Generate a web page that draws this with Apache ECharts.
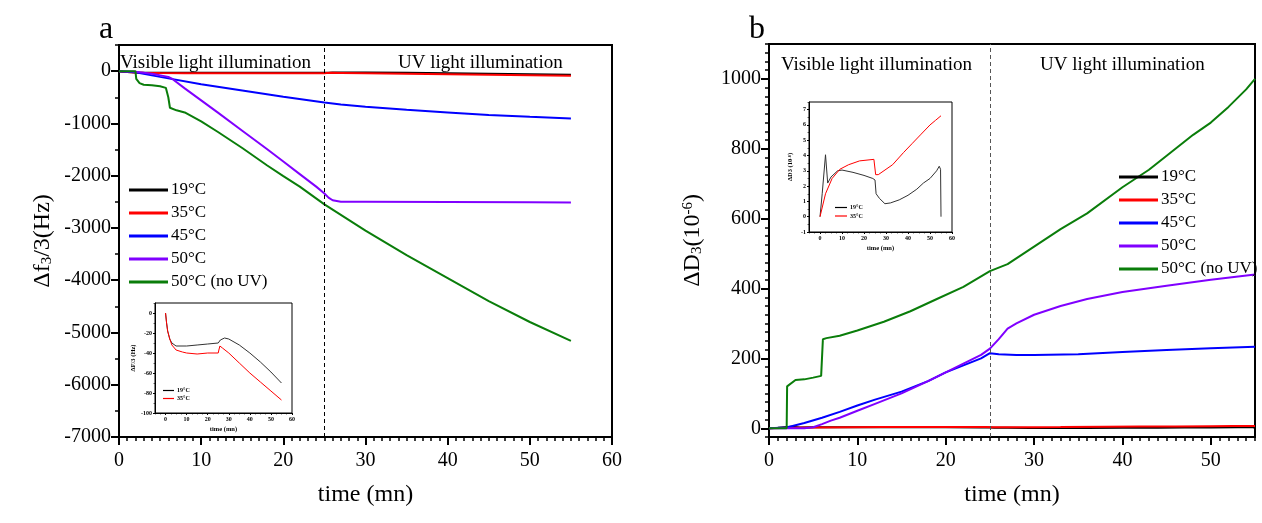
<!DOCTYPE html>
<html>
<head>
<meta charset="utf-8">
<script src="https://cdn.jsdelivr.net/npm/echarts@6/dist/echarts.min.js"></script>
<style>
html, body { margin: 0; padding: 0; background: #fff; }
#main { width: 1262px; height: 523px; }
</style>
</head>
<body>
<div id="main"></div>
<script>
// panel a : delta f3/3 (Hz) vs time (mn)
var tA19 = [0, 0.5, 1, 2, 3, 5, 10, 15, 20, 25, 25.5, 26, 28, 30, 35, 40, 45, 50, 55];
var fA19 = [0, -10, -18, -26, -30, -33, -33, -32, -31, -30, -29, -27, -25, -26, -32, -40, -49, -59, -70];
var tA35 = [0, 0.5, 1, 2, 3, 5, 8, 10, 15, 20, 25, 25.3, 25.8, 27, 30, 35, 40, 45, 50, 55];
var fA35 = [0, -10, -18, -26, -32, -37, -39, -40, -41, -40, -40, -37, -33, -35, -40, -50, -60, -69, -78, -87];
var tA45 = [0, 2, 5, 10, 15, 20, 25, 27, 30, 35, 40, 45, 50, 55];
var fA45 = [0, -20, -110, -250, -370, -490, -600, -640, -680, -740, -790, -840, -875, -905];
var tA50 = [0, 2, 4, 6, 6.5, 8, 10, 12, 15, 18, 20, 22, 24, 25, 25.5, 26, 27, 30, 40, 50, 55];
var fA50 = [0, -10, -50, -110, -150, -330, -560, -790, -1140, -1490, -1730, -1970, -2210, -2340, -2420, -2470, -2500, -2500, -2505, -2510, -2515];
var tA50n = [0, 2, 2.1, 2.5, 3, 4, 5, 5.7, 6, 6.2, 7, 8, 10, 12, 15, 18, 20, 22, 25, 28, 30, 35, 40, 45, 50, 55];
var fA50n = [0, 0, -150, -230, -260, -270, -290, -320, -500, -700, -750, -790, -960, -1160, -1470, -1800, -2010, -2210, -2550, -2850, -3050, -3520, -3960, -4400, -4800, -5160];

// panel b : delta D3 (1e-6) vs time (mn)
var tB19 = [0, 1, 2.5, 3.5, 5, 8, 10, 15, 20, 24, 25, 25.5, 27, 29.5, 32, 36, 40, 44, 47, 50, 53, 54.2, 54.8, 55];
var dB19 = [0, 1.5, 4.05, 2.2, 2.6, 3.0, 3.05, 2.9, 2.7, 2.5, 2.4, 1.5, 1.2, 0.85, 0.9, 1.1, 1.4, 1.8, 2.2, 2.5, 3.0, 3.3, 3.1, 0];
var tB35 = [0, 2.5, 5.5, 9, 13, 18, 24.5, 25.3, 26.5, 30, 33, 38, 42, 46, 50, 52.5, 55];
var dB35 = [0, 1.5, 2.5, 3.1, 3.4, 3.65, 3.75, 2.75, 2.75, 3.1, 3.4, 4.2, 4.8, 5.4, 6.0, 6.3, 6.6];
var tB45 = [0, 2, 4, 6, 8, 10, 12, 15, 18, 20, 22, 24, 25, 26, 28, 30, 35, 40, 45, 50, 55];
var dB45 = [0, 2, 15, 30, 47, 65, 82, 105, 135, 160, 180, 200, 215, 212, 210, 210, 212, 218, 224, 229, 233];
var tB50 = [0, 4, 5, 6, 7, 8, 10, 12, 15, 18, 20, 22, 24, 25, 26, 27, 28, 30, 33, 36, 40, 45, 50, 55];
var dB50 = [0, 0, 3, 12, 22, 30, 50, 70, 100, 135, 160, 185, 210, 228, 255, 285, 300, 325, 350, 370, 390, 408, 425, 440];
var tB50n = [0, 2, 2.05, 3, 4, 5, 5.9, 6.1, 6.5, 8, 10, 13, 16, 19, 22, 25, 27, 30, 33, 36, 40, 43, 45, 48, 50, 52, 54, 55];
var dB50n = [0, 0, 120, 138, 140, 145, 150, 255, 258, 265, 280, 305, 335, 370, 405, 450, 470, 520, 570, 615, 690, 740, 780, 840, 875, 920, 970, 1000];

var names = ['19°C', '35°C', '45°C', '50°C', '50°C (no UV)'];
var colors = ['#000000', '#ff0000', '#0000ff', '#8000ff', '#0a7d0a'];

// tick values
var ticksXa = [0, 10, 20, 30, 40, 50, 60];
var ticksXb = [0, 10, 20, 30, 40, 50];
var ticksYa = [-7000, -6000, -5000, -4000, -3000, -2000, -1000, 0];
var ticksYb = [0, 200, 400, 600, 800, 1000];
var ticksXin = [0, 10, 20, 30, 40, 50, 60];
var ticksYinA = [-100, -80, -60, -40, -20, 0];
var ticksYinB = [-1, 0, 1, 2, 3, 4, 5, 6, 7];

var FONT = 'Liberation Serif';

function pairs(t, v) {
    var out = [];
    for (var i = 0; i < t.length; i++) out.push([t[i], v[i]]);
    return out;
}

function mainAxis(grid, pos, min, max, ticks, fs, lw, tl, margin, bold) {
    return {
        type: 'value', gridIndex: grid, position: pos, min: min, max: max,
        axisLine: { show: true, onZero: false, lineStyle: { color: '#000', width: lw } },
        axisTick: { show: true, customValues: ticks, length: tl, lineStyle: { color: '#000', width: lw } },
        axisLabel: {
            customValues: ticks, fontSize: fs, fontFamily: FONT, color: '#000', margin: margin,
            fontWeight: bold ? 'bold' : 'normal',
            formatter: function (v) { return String(v); }
        },
        splitLine: { show: false }
    };
}

function minorAxis(grid, pos, min, max, step, tl, lw) {
    return {
        type: 'value', gridIndex: grid, position: pos, min: min, max: max, interval: step,
        axisLine: { show: false, onZero: false },
        axisTick: { show: true, length: tl, lineStyle: { color: '#000', width: lw } },
        axisLabel: { show: false },
        splitLine: { show: false }
    };
}

var xAxes = [
    mainAxis(0, 'bottom', 0, 60, ticksXa, 20, 2, 8, 14),
    minorAxis(0, 'bottom', 0, 60, 1, 4, 1.5),
    mainAxis(1, 'bottom', 0, 55, ticksXb, 20, 2, 8, 14),
    minorAxis(1, 'bottom', 0, 55, 1, 4, 1.5),
    mainAxis(2, 'bottom', -5, 60, ticksXin, 6, 1, 2, 3, true),
    minorAxis(2, 'bottom', -5, 60, 2.5, 1.5, 0.6),
    mainAxis(3, 'bottom', -5, 60, ticksXin, 6, 1, 2, 3, true),
    minorAxis(3, 'bottom', -5, 60, 2.5, 1.5, 0.6)
];
var yAxes = [
    mainAxis(0, 'left', -7000, 500, ticksYa, 20, 2, 8, 8),
    minorAxis(0, 'left', -7000, 500, 500, 4, 1.5),
    mainAxis(1, 'left', -25, 1100, ticksYb, 20, 2, 8, 8),
    minorAxis(1, 'left', -25, 1100, 25, 4, 1.5),
    mainAxis(2, 'left', -100, 10, ticksYinA, 6, 1, 2, 3, true),
    minorAxis(2, 'left', -100, 10, 10, 1.5, 0.6),
    mainAxis(3, 'left', -1, 7.5, ticksYinB, 6, 1, 2, 3, true),
    minorAxis(3, 'left', -1, 7.5, 0.5, 1.5, 0.6)
];

// axis titles
var titleStyle = {
    fontSize: 24, fontFamily: FONT, color: '#000',
    rich: {
        a: { fontSize: 24, fontFamily: FONT, color: '#000' },
        sub: { fontSize: 15, fontFamily: FONT, color: '#000', lineHeight: 10, verticalAlign: 'bottom' },
        sup: { fontSize: 15, fontFamily: FONT, color: '#000', lineHeight: 10, verticalAlign: 'top' }
    }
};
xAxes[0].name = 'time (mn)';
xAxes[2].name = 'time (mn)';
[0, 2].forEach(function (i) {
    xAxes[i].nameLocation = 'middle';
    xAxes[i].nameGap = 46;
    xAxes[i].nameTextStyle = { fontSize: 24, fontFamily: FONT, color: '#000' };
});
yAxes[0].name = '{a|Δf}{sub|3}{a|/3(Hz)}';
yAxes[2].name = '{a|ΔD}{sub|3}{a|(10}{sup|-6}{a|)}';
[0, 2].forEach(function (i) {
    yAxes[i].nameLocation = 'middle';
    yAxes[i].nameGap = 64;
    yAxes[i].nameRotate = 90;
    yAxes[i].nameTextStyle = titleStyle;
});
var inStyle = {
    fontSize: 6.5, fontFamily: FONT, fontWeight: 'bold', color: '#000',
    rich: {
        a: { fontSize: 6.5, fontFamily: FONT, fontWeight: 'bold', color: '#000' },
        sup: { fontSize: 4.5, fontFamily: FONT, fontWeight: 'bold', color: '#000', lineHeight: 4, verticalAlign: 'top' }
    }
};
xAxes[4].name = 'time (mn)';
xAxes[6].name = 'time (mn)';
[4, 6].forEach(function (i) {
    xAxes[i].nameLocation = 'middle';
    xAxes[i].nameGap = 13;
    xAxes[i].nameTextStyle = inStyle;
});
yAxes[4].name = '{a|ΔF/3 (Hz)}';
yAxes[6].name = '{a|ΔD3 (10}{sup|-6}{a|)}';
[4, 6].forEach(function (i) {
    yAxes[i].nameLocation = 'middle';
    yAxes[i].nameGap = 15;
    yAxes[i].nameRotate = 90;
    yAxes[i].nameTextStyle = inStyle;
});

function line(name, color, xi, yi, data, w) {
    return {
        type: 'line', name: name, xAxisIndex: xi, yAxisIndex: yi,
        data: data, showSymbol: false, symbol: 'none', silent: true,
        lineStyle: { color: color, width: w }, itemStyle: { color: color }
    };
}

var seriesA = [
    line(names[0], colors[0], 0, 0, pairs(tA19, fA19), 2),
    line(names[1], colors[1], 0, 0, pairs(tA35, fA35), 2),
    line(names[2], colors[2], 0, 0, pairs(tA45, fA45), 2),
    line(names[3], colors[3], 0, 0, pairs(tA50, fA50), 2),
    line(names[4], colors[4], 0, 0, pairs(tA50n, fA50n), 2)
];
seriesA[0].markLine = { silent: true, symbol: 'none', label: { show: false },
    lineStyle: { type: [4, 3], color: '#000', width: 1 }, data: [{ xAxis: 25 }] };
var seriesB = [
    line(names[0], colors[0], 2, 2, pairs(tB19, dB19), 2),
    line(names[1], colors[1], 2, 2, pairs(tB35, dB35), 2),
    line(names[2], colors[2], 2, 2, pairs(tB45, dB45), 2),
    line(names[3], colors[3], 2, 2, pairs(tB50, dB50), 2),
    line(names[4], colors[4], 2, 2, pairs(tB50n, dB50n), 2)
];
seriesB[0].markLine = { silent: true, symbol: 'none', label: { show: false },
    lineStyle: { type: [4, 3], color: '#555', width: 1 }, data: [{ xAxis: 25 }] };
var seriesIn = [
    line(names[0], '#333333', 4, 4, pairs(tA19, fA19), 1),
    line(names[1], colors[1], 4, 4, pairs(tA35, fA35), 1),
    line(names[0], '#333333', 6, 6, pairs(tB19, dB19), 1),
    line(names[1], colors[1], 6, 6, pairs(tB35, dB35), 1)
];

function legend(left, top, data, fs, w, h, gap, bold) {
    return {
        left: left, top: top, orient: 'vertical', padding: 0, itemGap: gap,
        itemWidth: w, itemHeight: h, icon: 'rect', selectedMode: false,
        data: data,
        textStyle: { fontSize: fs, lineHeight: fs + 1, fontFamily: FONT, color: '#000',
            fontWeight: bold ? 'bold' : 'normal', padding: [0, 0, 0, -2] }
    };
}

function label(text, left, top, fs) {
    return { type: 'text', left: left, top: top, silent: true,
        style: { text: text, fontSize: fs, fontFamily: FONT, fill: '#000' } };
}

var myChart = echarts.init(document.getElementById('main'), null, { renderer: 'canvas' });
var option = {
    animation: false,
    backgroundColor: '#fff',
    grid: [
        { left: 119, top: 45, width: 493, height: 392, show: true, borderColor: '#000', borderWidth: 2 },
        { left: 769, top: 44, width: 486, height: 393, show: true, borderColor: '#000', borderWidth: 2 },
        { left: 155, top: 303, width: 137, height: 110, show: true, borderColor: '#000', borderWidth: 1, backgroundColor: '#fff' },
        { left: 809, top: 102, width: 143, height: 130, show: true, borderColor: '#000', borderWidth: 1, backgroundColor: '#fff' }
    ],
    xAxis: xAxes,
    yAxis: yAxes,
    legend: [
        legend(129, 181, names, 17, 39, 3, 5),
        legend(1119, 168, names, 17, 39, 3, 5),
        legend(163, 387, names.slice(0, 2), 6, 11, 1.2, 1, true),
        legend(835, 204, names.slice(0, 2), 6, 12, 1.2, 1.5, true)
    ],
    graphic: [
        label('a', 99, 14, 32),
        label('b', 749, 14, 32),
        label('Visible light illumination', 120, 54, 19),
        label('UV light illumination', 398, 54, 19),
        label('Visible light illumination', 781, 56, 19),
        label('UV light illumination', 1040, 56, 19)
    ],
    series: seriesA.concat(seriesB).concat(seriesIn)
};
myChart.setOption(option);
window.addEventListener('resize', function () {
    myChart.resize();
});
</script>
</body>
</html>
